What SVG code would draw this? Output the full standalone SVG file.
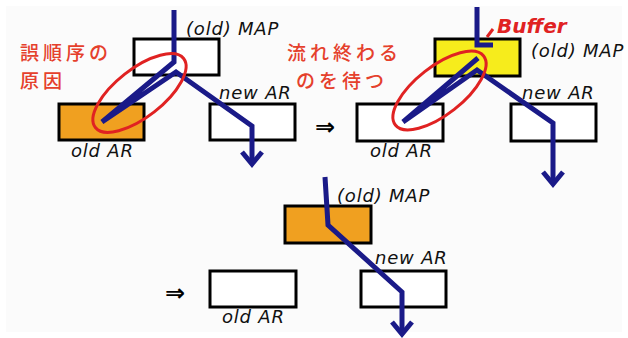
<svg xmlns="http://www.w3.org/2000/svg" width="628" height="338" viewBox="0 0 628 338">
<style>
.box{stroke:#000;stroke-width:3}
.lbl{font-family:"DejaVu Sans",sans-serif;font-style:italic;font-size:18px;letter-spacing:0.8px;fill:#111}
.jp{font-family:"Noto Sans CJK JP",sans-serif;font-size:19px;letter-spacing:4px;font-weight:500;fill:#e5402c}
.flow{fill:none;stroke:#1a1a88;stroke-width:5;stroke-linejoin:miter}
.ring{fill:none;stroke:#e02222;stroke-width:3}
.imp{font-family:"DejaVu Sans",sans-serif;font-size:24px;font-weight:bold;fill:#000}
</style>
<rect x="0" y="0" width="628" height="338" fill="#ffffff"/>
<rect x="6" y="6" width="616" height="326" fill="#fbfbfb"/>

<g id="p1-map"><rect class="box" x="134" y="39" width="85" height="36" fill="#ffffff"/><text class="lbl" x="186" y="35">(old) MAP</text></g>
<g id="p1-oldar"><rect class="box" x="59" y="104" width="85" height="36" fill="#f0a020"/><text class="lbl" x="71" y="157">old AR</text></g>
<g id="p1-newar"><rect class="box" x="210" y="104" width="85" height="36" fill="#ffffff"/><text class="lbl" x="219" y="99">new AR</text></g>
<g id="p1-note"><text class="jp" x="20" y="60">誤順序の</text><text class="jp" x="20" y="88">原因</text></g>

<text class="imp" x="315" y="135">⇒</text>

<g id="p2-map"><rect class="box" x="435" y="39" width="85" height="37" fill="#f6ec1c"/><text class="lbl" x="531" y="57">(old) MAP</text></g>
<g id="p2-oldar"><rect class="box" x="357" y="104" width="86" height="37" fill="#ffffff"/><text class="lbl" x="370" y="157">old AR</text></g>
<g id="p2-newar"><rect class="box" x="511" y="104" width="85" height="37" fill="#ffffff"/><text class="lbl" x="522" y="99">new AR</text></g>
<g id="p2-note"><text class="jp" x="287" y="60">流れ終わる</text><text class="jp" x="296" y="88">のを待つ</text></g>
<g id="p2-buffer"><text x="497" y="33" font-family="DejaVu Sans, sans-serif" font-style="italic" font-weight="bold" font-size="20" fill="#e02222">Buffer</text><line x1="493" y1="29" x2="487" y2="37" stroke="#e02222" stroke-width="3"/></g>

<text class="imp" x="165" y="301">⇒</text>

<g id="p3-map"><rect class="box" x="285" y="206" width="86" height="37" fill="#f0a020"/><text class="lbl" x="337" y="202">(old) MAP</text></g>
<g id="p3-oldar"><rect class="box" x="210" y="271" width="86" height="36" fill="#ffffff"/><text class="lbl" x="222" y="323">old AR</text></g>
<g id="p3-newar"><rect class="box" x="361" y="271" width="85" height="36" fill="#ffffff"/><text class="lbl" x="375" y="264">new AR</text></g>

<g id="connectors">
<polyline class="flow" points="174,10 174,62 102,122 176,72 252,126 252,164"/>
<polyline class="flow" points="242,152 252,164 262,152"/>
<polyline class="flow" points="477,7 477,45 493,45"/>
<polyline class="flow" points="478,58 403,122 477,70 553,123 553,184"/>
<polyline class="flow" points="543,172 553,184 563,172"/>
<polyline class="flow" points="325,177 328,225 402,292 402,334"/>
<polyline class="flow" points="392,322 402,334 412,322"/>
<ellipse class="ring" cx="139.5" cy="93" rx="56" ry="24" transform="rotate(-38 139.5 93)"/>
<ellipse class="ring" cx="439.5" cy="90.5" rx="56" ry="24" transform="rotate(-38 439.5 90.5)"/>
</g>
</svg>
